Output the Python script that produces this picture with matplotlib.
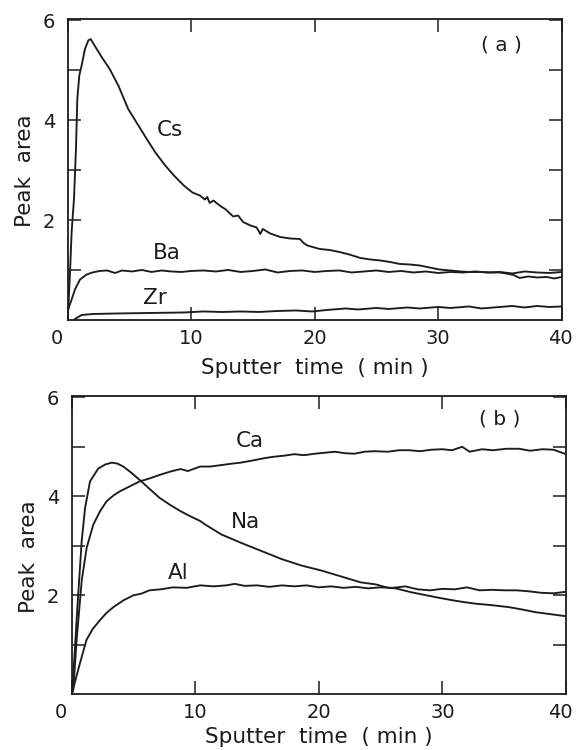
import matplotlib
matplotlib.use("Agg")
import matplotlib.pyplot as plt
from matplotlib.transforms import ScaledTranslation

# ---- panel (a) : Cs, Ba, Zr ----
cs_t = [0.05, 0.19, 0.32, 0.51, 0.67, 0.78, 0.94, 1.13, 1.4, 1.67, 1.86, 2.3, 2.8,
        3.4, 4.1, 4.9, 5.6, 6.4, 7.1, 7.9, 8.6, 9.4, 10.1, 10.7, 11.1, 11.3, 11.5,
        11.8, 12.3, 12.8, 13.4, 13.8, 14.2, 14.8, 15.3, 15.6, 15.8, 16.4, 17.2,
        18.0, 18.8, 19.1, 19.4, 20.4, 21.2, 22.0, 22.8, 23.7, 24.5, 25.3, 26.1,
        26.9, 27.7, 28.5, 29.3, 30.1, 31.0, 31.8, 32.6, 33.4, 34.2, 35.0, 35.5,
        36.1, 36.6, 37.3, 38.0, 38.8, 39.4, 40.0]
cs_y = [0.23, 0.97, 1.77, 2.43, 3.43, 4.43, 4.9, 5.1, 5.43, 5.6, 5.63, 5.45, 5.25,
        5.03, 4.7, 4.23, 3.95, 3.63, 3.36, 3.1, 2.9, 2.7, 2.56, 2.5, 2.42, 2.47, 2.35,
        2.4, 2.3, 2.22, 2.08, 2.1, 1.97, 1.9, 1.86, 1.73, 1.83, 1.74, 1.67,
        1.64, 1.63, 1.55, 1.5, 1.43, 1.41, 1.37, 1.32, 1.25, 1.22, 1.2, 1.17,
        1.13, 1.12, 1.1, 1.06, 1.02, 1.0, 0.98, 0.97, 0.97, 0.96, 0.96, 0.94,
        0.91, 0.85, 0.88, 0.86, 0.87, 0.84, 0.87]

ba_t = [0.05, 0.32, 0.59, 1.0, 1.54, 2.0, 2.6, 3.2, 3.83, 4.4, 5.2, 6.0, 6.8, 7.6,
        8.4, 9.2, 10.0, 11, 12, 13, 14, 15, 16, 17, 18, 19, 20, 21, 22, 23, 24,
        25, 26, 27, 28, 29, 30, 31, 32, 33, 34, 35, 36, 37, 38, 39, 40]
ba_y = [0.23, 0.42, 0.62, 0.82, 0.92, 0.96, 0.99, 1.0, 0.95, 1.0, 0.98, 1.01, 0.97,
        1.0, 0.98, 0.97, 0.99, 1.0, 0.98, 1.01, 0.97, 0.99, 1.02, 0.96, 0.99, 1.0,
        0.97, 0.99, 1.0, 0.96, 0.98, 1.0, 0.97, 0.99, 0.96, 0.98, 0.95, 0.97, 0.96,
        0.98, 0.96, 0.97, 0.94, 0.98, 0.96, 0.95, 0.97]

zr_t = [0.59, 1.13, 2.07, 4.0, 6.7, 9.4, 11, 12.5, 14, 15.5, 17, 18.5, 19.8, 21,
        22.5, 23.5, 25, 26, 27.5, 28.5, 30, 31, 32.5, 33.5, 35, 36, 37, 38, 39, 40]
zr_y = [0.03, 0.11, 0.13, 0.14, 0.15, 0.16, 0.18, 0.17, 0.18, 0.17, 0.19, 0.2, 0.18,
        0.21, 0.24, 0.22, 0.25, 0.23, 0.26, 0.24, 0.27, 0.25, 0.28, 0.24, 0.27, 0.29,
        0.26, 0.29, 0.27, 0.28]

# ---- panel (b) : Ca, Na, Al ----
ca_t = [0.05, 0.13, 0.4, 0.81, 1.21, 1.75, 2.3, 2.83, 3.4, 3.9, 4.7, 5.5, 6.3, 7.1,
        8.0, 8.8, 9.4, 10.4, 11.2, 12.1, 13.0, 13.7, 14.8, 15.6, 16.4, 17.2, 18.0,
        18.8, 19.7, 20.5, 21.3, 22.1, 22.9, 23.7, 24.5, 25.6, 26.5, 27.3, 28.2,
        29.1, 30.0, 30.8, 31.6, 32.2, 33.2, 34.1, 35.2, 36.2, 37.1, 38.1, 39.0, 39.9]
ca_y = [0.05, 0.1, 1.1, 2.3, 2.96, 3.43, 3.7, 3.9, 4.02, 4.1, 4.2, 4.3, 4.36, 4.43,
        4.5, 4.55, 4.51, 4.6, 4.6, 4.63, 4.66, 4.68, 4.73, 4.77, 4.8, 4.82, 4.85,
        4.83, 4.86, 4.88, 4.9, 4.87, 4.86, 4.9, 4.91, 4.9, 4.93, 4.93, 4.91,
        4.94, 4.95, 4.93, 5.0, 4.9, 4.95, 4.93, 4.96, 4.96, 4.92, 4.95, 4.94, 4.86]

na_t = [0.05, 0.46, 0.81, 1.08, 1.48, 2.15, 2.7, 3.24, 3.7, 4.18, 4.8, 5.5, 6.3, 7.1,
        8.0, 8.8, 9.4, 10.4, 10.8, 12.1, 13.7, 15.3, 17.0, 18.6, 20.2, 21.8, 23.4,
        24.6, 25.6, 26.2, 27.5, 28.7, 29.7, 30.8, 31.8, 32.7, 34.0, 35.4, 36.5,
        37.5, 38.7, 39.9]
na_y = [0.05, 1.76, 3.1, 3.76, 4.3, 4.56, 4.64, 4.68, 4.66, 4.6, 4.48, 4.33, 4.15,
        3.97, 3.82, 3.7, 3.62, 3.5, 3.43, 3.23, 3.06, 2.9, 2.73, 2.6, 2.5, 2.38,
        2.26, 2.22, 2.15, 2.14, 2.06, 2.0, 1.95, 1.9, 1.86, 1.83, 1.8, 1.76, 1.71,
        1.66, 1.62, 1.58]

al_t = [0.05, 0.67, 1.2, 1.7, 2.3, 2.8, 3.37, 4.2, 5.0, 5.6, 6.3, 7.2, 8.2, 9.3,
        10.4, 11.5, 12.5, 13.2, 14, 15, 16, 17, 18, 19, 20, 21, 22, 23, 24, 25, 26,
        27, 28, 29, 30, 31, 32, 33, 34, 35, 36, 37, 38, 39, 40]
al_y = [0.05, 0.63, 1.1, 1.32, 1.5, 1.64, 1.76, 1.9, 2.0, 2.03, 2.1, 2.12, 2.16,
        2.15, 2.2, 2.18, 2.2, 2.23, 2.19, 2.2, 2.17, 2.2, 2.18, 2.2, 2.16, 2.18,
        2.15, 2.17, 2.14, 2.16, 2.15, 2.18, 2.12, 2.1, 2.13, 2.12, 2.16, 2.1, 2.11,
        2.1, 2.1, 2.08, 2.05, 2.04, 2.07]

x_ticks = [0, 10, 20, 30, 40]
y_ticks = [1, 2, 3, 4, 5, 6]
y_labels = ["", "2", "", "4", "", "6"]

ink = "#1c1c1c"
fs = 14
fs_lab = 15.5
fs_curve = 15.5

plt.rcParams["font.family"] = "DejaVu Sans"

fig = plt.figure(figsize=(5.76, 7.5), dpi=100)
fig.patch.set_facecolor("white")


def shift(label, dx):
    label.set_transform(label.get_transform()
                        + ScaledTranslation(dx, 0, fig.dpi_scale_trans))


def setup(ax, ylab_y, xlab_y, last_dx):
    ax.set_xlim(0, 40)
    ax.set_ylim(0, 6.03)
    ax.set_xticks(x_ticks)
    ax.set_xticklabels([str(v) for v in x_ticks])
    ax.set_yticks(y_ticks)
    ax.set_yticklabels(y_labels)
    ax.tick_params(direction="in", length=9.4, width=1.1, top=True, right=True,
                   labelsize=fs, colors=ink)
    ax.tick_params(axis="x", pad=6)
    ax.tick_params(axis="y", pad=9)
    for s in ax.spines.values():
        s.set_linewidth(1.3)
        s.set_color(ink)
    ax.set_xlabel("Sputter  time  ( min )", fontsize=fs_lab, color=ink,
                  va="center")
    ax.xaxis.set_label_coords(0.5, xlab_y)
    ax.set_ylabel("Peak  area", fontsize=fs_lab, color=ink, va="center")
    ax.yaxis.set_label_coords(-0.087, ylab_y)
    ticks = ax.xaxis.get_major_ticks()
    # the origin "0" sits a little left of the corner
    shift(ticks[0].label1, -0.11)
    shift(ticks[-1].label1, last_dx)


# panel (a)
ax1 = fig.add_axes([0.1175, 0.5727, 0.8576, 0.402])
ax1.plot(cs_t, cs_y, color=ink, lw=1.35)
ax1.plot(ba_t, ba_y, color=ink, lw=1.35)
ax1.plot(zr_t, zr_y, color=ink, lw=1.35)
setup(ax1, 0.497, -0.158, -0.01)
ax1.text(8.28, 3.8, "Cs", fontsize=fs_curve, ha="center", va="center", color=ink)
ax1.text(8.0, 1.35, "Ba", fontsize=fs_curve, ha="center", va="center", color=ink)
ax1.text(7.07, 0.44, "Zr", fontsize=fs_curve, ha="center", va="center", color=ink)
ax1.text(35.1, 5.5, "( a )", fontsize=fs + 0.5, ha="center", va="center", color=ink)

# panel (b)
ax2 = fig.add_axes([0.1245, 0.0743, 0.858, 0.398])
ax2.plot(ca_t, ca_y, color=ink, lw=1.35)
ax2.plot(na_t, na_y, color=ink, lw=1.35)
ax2.plot(al_t, al_y, color=ink, lw=1.35)
setup(ax2, 0.46, -0.142, -0.06)
ax2.text(14.4, 5.12, "Ca", fontsize=fs_curve, ha="center", va="center", color=ink)
ax2.text(14.1, 3.48, "Na", fontsize=fs_curve, ha="center", va="center", color=ink)
ax2.text(8.6, 2.45, "Al", fontsize=fs_curve, ha="center", va="center", color=ink)
ax2.text(34.6, 5.56, "( b )", fontsize=fs + 0.5, ha="center", va="center", color=ink)

fig.savefig("out.png", dpi=100, facecolor="white")
